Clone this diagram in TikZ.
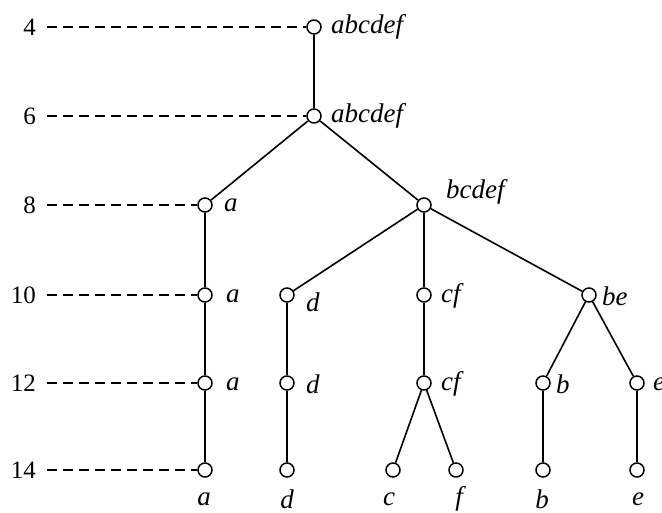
\documentclass[tikz,border=0pt]{standalone}
\usepackage{fontspec}
\setmainfont{Liberation Serif}
\begin{document}
\begin{tikzpicture}[x=1pt,y=-1pt,
  vtx/.style={circle,draw,fill=white,line width=1.5pt,minimum size=14pt,inner sep=0pt},
  edge/.style={line width=1.6pt},
  guide/.style={line width=1.5pt,dash pattern=on 10pt off 6pt},
  lab/.style={font=\fontsize{27}{27}\selectfont\itshape,inner sep=0pt},
  lev/.style={font=\fontsize{25}{25}\selectfont,anchor=east,inner sep=0pt}]
\useasboundingbox (0,0) rectangle (662,513);
\clip (0,0) rectangle (662,513);
% levels
\foreach \n/\y in {4/27,6/116,8/205,10/295,12/383,14/470}{
  \node[lev] (L\n) at (36,\y) {\n};
  \coordinate (G\n) at (47,\y);
}
% vertices
\node[vtx] (r4) at (314,27) {};
\node[vtx] (r6) at (314,116) {};
\node[vtx] (a8) at (205,205) {};
\node[vtx] (x8) at (424,205) {};
\node[vtx] (a10) at (205,295) {};
\node[vtx] (d10) at (287,295) {};
\node[vtx] (cf10) at (424,295) {};
\node[vtx] (be10) at (589,295) {};
\node[vtx] (a12) at (205,383) {};
\node[vtx] (d12) at (287,383) {};
\node[vtx] (cf12) at (424,383) {};
\node[vtx] (b12) at (543,383) {};
\node[vtx] (e12) at (637,383) {};
\node[vtx] (a14) at (205,470) {};
\node[vtx] (d14) at (287,470) {};
\node[vtx] (c14) at (393,470) {};
\node[vtx] (f14) at (456,470) {};
\node[vtx] (b14) at (543,470) {};
\node[vtx] (e14) at (637,470) {};
% guides
\draw[guide] (G4) -- (r4.west);
\draw[guide] (G6) -- (r6.west);
\draw[guide] (G8) -- (a8.west);
\draw[guide] (G10) -- (a10.west);
\draw[guide] (G12) -- (a12.west);
\draw[guide] (G14) -- (a14.west);
% edges
\draw[edge] (r4) -- (r6);
\draw[edge] (r6) -- (a8);
\draw[edge] (r6) -- (x8);
\draw[edge] (a8) -- (a10);
\draw[edge] (a10) -- (a12);
\draw[edge] (a12) -- (a14);
\draw[edge] (x8) -- (d10);
\draw[edge] (x8) -- (cf10);
\draw[edge] (x8) -- (be10);
\draw[edge] (d10) -- (d12);
\draw[edge] (d12) -- (d14);
\draw[edge] (cf10) -- (cf12);
\draw[edge] (cf12) -- (c14);
\draw[edge] (cf12) -- (f14);
\draw[edge] (be10) -- (b12);
\draw[edge] (be10) -- (e12);
\draw[edge] (b12) -- (b14);
\draw[edge] (e12) -- (e14);
% labels
\node[lab,anchor=west] (tr4) at (331,27) {abcdef};
\node[lab,anchor=west] (tr6) at (331,116) {abcdef};
\node[lab,anchor=west] (ta8) at (224,205) {a};
\node[lab,anchor=west] (tx8) at (446,192) {bcdef};
\node[lab,anchor=west] (ta10) at (226,296) {a};
\node[lab,anchor=west] (td10) at (306,302) {d};
\node[lab,anchor=west] (tcf10) at (441,296) {cf};
\node[lab,anchor=west] (tbe10) at (602,296) {be};
\node[lab,anchor=west] (ta12) at (226,384) {a};
\node[lab,anchor=west] (td12) at (306,384) {d};
\node[lab,anchor=west] (tcf12) at (441,384) {cf};
\node[lab,anchor=west] (tb12) at (556,384) {b};
\node[lab,anchor=west] (te12) at (653,384) {e};
\node[lab] (ta14) at (204,499) {a};
\node[lab] (td14) at (287,499) {d};
\node[lab] (tc14) at (389,499) {c};
\node[lab] (tf14) at (459,499) {f};
\node[lab] (tb14) at (542,499) {b};
\node[lab] (te14) at (638,499) {e};
\end{tikzpicture}
\end{document}
